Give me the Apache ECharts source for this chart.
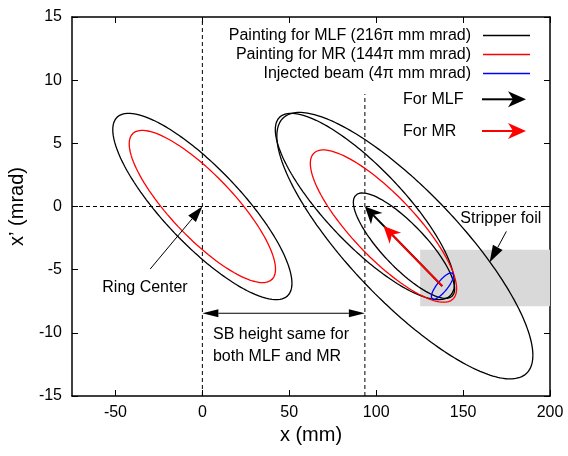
<!DOCTYPE html>
<html>
<head>
<meta charset="utf-8">
<script src="https://cdn.jsdelivr.net/npm/echarts@6/dist/echarts.min.js"></script>
<style>
  html, body { margin: 0; padding: 0; background: #fff; }
  #chart { width: 568px; height: 456px; }
</style>
</head>
<body>
<div id="chart"></div>
<script>
const FONT = "'Liberation Sans', Arial, Helvetica, sans-serif"

// tick values
const xTicks = [-50, 0, 50, 100, 150, 200]

// emittance ellipses: centre x (mm), centre x' (mrad), emittance (pi mm mrad)
const mlfCx = [0, 93.5, 116.5, 116]
const mlfCy = [0, 0, -3.1, -3.1]
const mlfEmit = [216, 216, 441, 69]
const mrCx = [0, 104.2]
const mrCy = [0, -1.55]
const mrEmit = [144, 144]
const injCx = [138.1]
const injCy = [-6.3]
const injEmit = [4]
// twiss [alpha, beta] of the ring and of the injected beam
const ringTwiss = [1.45, 12.3]
const injTwiss = [-1.35, 10.2]

// dashed guide lines
const guideV0 = [[0, -15], [0, 15]]
const guideH0 = [[-75, 0], [200, 0]]
const guideV1 = [[93.5, -15], [93.5, 8.9]]

// stripper foil box [x1, y1, x2, y2]
const foilBox = [[125.3, -3.42, 200, -7.9]]

// arrows [x1, y1, x2, y2]
const arrowX1 = [-30, 0, 174.9, 138, 138]
const arrowY1 = [-4.95, -8.45, -1.97, -6.3, -6.3]
const arrowX2 = [0, 93.5, 165.3, 93.5, 104.2]
const arrowY2 = [0, -8.45, -4.42, 0, -1.55]

// text notes
const noteText = ['Ring Center', 'SB height same for', 'both MLF and MR', 'Stripper foil']
const noteX = [-33, 6.1, 6.1, 171.7]
const noteY = [-6.38, -10.13, -11.86, -0.95]

const mlfName = 'Painting for MLF (216\u03c0 mm mrad)'
const mrName = 'Painting for MR (144\u03c0 mm mrad)'
const injName = 'Injected beam (4\u03c0 mm mrad)'

// styles, kept apart from the values
const noteAlign = ['center', 'left', 'left', 'center']
const arrowStyle = [
  { color: '#000', width: 1, len: 16, half: 5, notch: 0, both: false },
  { color: '#000', width: 1, len: 16, half: 4, notch: 0, both: true },
  { color: '#000', width: 1, len: 17, half: 5.5, notch: 0, both: false },
  { color: '#000', width: 2, len: 17, half: 8, notch: 5, both: false },
  { color: '#ff0000', width: 2, len: 17, half: 8, notch: 5, both: false }
]

function ellipse (cx, cy, emit, tw) {
  let a = tw[0]
  let b = tw[1]
  let pts = []
  for (let k = 0; k <= 240; k++) {
    let t = k * Math.PI / 120
    pts.push([cx + Math.sqrt(emit * b) * Math.cos(t),
      cy - Math.sqrt(emit / b) * (a * Math.cos(t) + Math.sin(t))])
  }
  return pts
}

function ellipseSeries (name, color, cx, cy, emit, tw) {
  return cx.map((x, i) => ({
    name: name,
    type: 'line',
    data: ellipse(x, cy[i], emit[i], tw),
    symbol: 'none',
    smooth: false,
    silent: true,
    z: 3,
    lineStyle: { color: color, width: 1.3 },
    itemStyle: { color: color }
  }))
}

function guide (data) {
  return {
    type: 'line',
    data: data,
    symbol: 'none',
    silent: true,
    z: 2,
    lineStyle: { color: '#000', width: 1, type: [4, 3] }
  }
}

function renderArrow (params, api) {
  let st = arrowStyle[params.dataIndex]
  let a = api.coord([api.value(0), api.value(1)])
  let b = api.coord([api.value(2), api.value(3)])
  let dx = b[0] - a[0]
  let dy = b[1] - a[1]
  let l = Math.hypot(dx, dy)
  let ux = dx / l
  let uy = dy / l
  let children = []
  function head (tip, sx, sy) {
    let bx = tip[0] - sx * st.len
    let by = tip[1] - sy * st.len
    let nx = -sy
    let ny = sx
    children.push({
      type: 'polygon',
      shape: { points: [
        [tip[0], tip[1]],
        [bx + nx * st.half, by + ny * st.half],
        [bx + sx * st.notch, by + sy * st.notch],
        [bx - nx * st.half, by - ny * st.half]
      ] },
      style: { fill: st.color }
    })
  }
  let back = st.len - st.notch
  let p1 = st.both ? [a[0] + ux * back, a[1] + uy * back] : a
  let p2 = [b[0] - ux * back, b[1] - uy * back]
  children.push({
    type: 'line',
    shape: { x1: p1[0], y1: p1[1], x2: p2[0], y2: p2[1] },
    style: { stroke: st.color, lineWidth: st.width }
  })
  head(b, ux, uy)
  if (st.both) head(a, -ux, -uy)
  return { type: 'group', children: children }
}

let axisText = { fontSize: 16, fontFamily: FONT, color: '#000' }
let borderLine = { show: true, onZero: false, lineStyle: { color: '#000', width: 1.5 } }

let option = {
  animation: false,
  backgroundColor: '#fff',
  grid: { left: 72, right: 18, top: 17, bottom: 60, outerBoundsMode: 'none' },
  legend: {
    data: [mlfName, mrName, injName],
    orient: 'vertical',
    align: 'right',
    right: 38,
    top: 26,
    padding: 0,
    icon: 'rect',
    itemWidth: 47,
    itemHeight: 1.3,
    itemGap: 0,
    selectedMode: false,
    textStyle: { fontSize: 16, fontFamily: FONT, color: '#000', lineHeight: 19, padding: [0, 7, 0, 0] }
  },
  xAxis: [{
    type: 'value',
    min: -75,
    max: 200,
    position: 'bottom',
    name: 'x (mm)',
    nameLocation: 'middle',
    nameGap: 25,
    nameTextStyle: { fontSize: 20, fontFamily: FONT, color: '#000' },
    axisLine: borderLine,
    axisTick: { inside: true, length: 6, lineStyle: { color: '#000' }, customValues: xTicks },
    axisLabel: Object.assign({ margin: 9, customValues: xTicks }, axisText),
    splitLine: { show: false }
  }, {
    type: 'value',
    min: -75,
    max: 200,
    position: 'top',
    axisLine: borderLine,
    axisTick: { inside: true, length: 6, lineStyle: { color: '#000' }, customValues: xTicks },
    axisLabel: { show: false },
    splitLine: { show: false }
  }],
  yAxis: [{
    type: 'value',
    min: -15,
    max: 15,
    interval: 5,
    position: 'left',
    name: 'x\u2019 (mrad)',
    nameLocation: 'middle',
    nameRotate: 90,
    nameGap: 45,
    nameTextStyle: { fontSize: 20, fontFamily: FONT, color: '#000' },
    axisLine: borderLine,
    axisTick: { inside: true, length: 6, lineStyle: { color: '#000' } },
    axisLabel: Object.assign({ margin: 10 }, axisText),
    splitLine: { show: false }
  }, {
    type: 'value',
    min: -15,
    max: 15,
    interval: 5,
    position: 'right',
    axisLine: borderLine,
    axisTick: { inside: true, length: 6, lineStyle: { color: '#000' } },
    axisLabel: { show: false },
    splitLine: { show: false }
  }],
  series: [
    {
      type: 'custom',
      name: 'foil',
      silent: true,
      z: 1,
      data: foilBox,
      renderItem: function (params, api) {
        let p = api.coord([api.value(0), api.value(1)])
        let q = api.coord([api.value(2), api.value(3)])
        return {
          type: 'rect',
          shape: { x: p[0], y: p[1], width: q[0] - p[0], height: q[1] - p[1] },
          style: { fill: '#d9d9d9' }
        }
      }
    },
    guide(guideV0),
    guide(guideH0),
    guide(guideV1)
  ]
    .concat(ellipseSeries(mlfName, '#000', mlfCx, mlfCy, mlfEmit, ringTwiss))
    .concat(ellipseSeries(mrName, '#ff0000', mrCx, mrCy, mrEmit, ringTwiss))
    .concat(ellipseSeries(injName, '#0000ff', injCx, injCy, injEmit, injTwiss))
    .concat([{
      type: 'custom',
      name: 'arrows',
      silent: true,
      z: 4,
      data: arrowX1.map((x, i) => [x, arrowY1[i], arrowX2[i], arrowY2[i]]),
      renderItem: renderArrow
    }, {
      type: 'custom',
      name: 'notes',
      silent: true,
      z: 5,
      data: noteX.map((x, i) => [x, noteY[i]]),
      renderItem: function (params, api) {
        let p = api.coord([api.value(0), api.value(1)])
        return {
          type: 'text',
          x: p[0],
          y: p[1],
          style: {
            text: noteText[params.dataIndex],
            font: '16px ' + FONT,
            fill: '#000',
            align: noteAlign[params.dataIndex],
            verticalAlign: 'middle'
          }
        }
      }
    }]),
  graphic: [
    { type: 'text', left: 403, top: 91.5, style: { text: 'For MLF', font: '16px ' + FONT, fill: '#000' } },
    { type: 'text', left: 403, top: 123.5, style: { text: 'For MR', font: '16px ' + FONT, fill: '#000' } },
    { type: 'line', shape: { x1: 482, y1: 99.3, x2: 514, y2: 99.3 }, style: { stroke: '#000', lineWidth: 2 } },
    { type: 'polygon', shape: { points: [[508, 91.3], [526, 99.3], [508, 107.3], [513, 99.3]] }, style: { fill: '#000' } },
    { type: 'line', shape: { x1: 482, y1: 131, x2: 514, y2: 131 }, style: { stroke: '#ff0000', lineWidth: 2 } },
    { type: 'polygon', shape: { points: [[508, 123], [526, 131], [508, 139], [513, 131]] }, style: { fill: '#ff0000' } }
  ]
}

let chart = echarts.init(document.getElementById('chart'))
chart.setOption(option)
window.addEventListener('resize', function () {
  chart.resize()
})
</script>
</body>
</html>
